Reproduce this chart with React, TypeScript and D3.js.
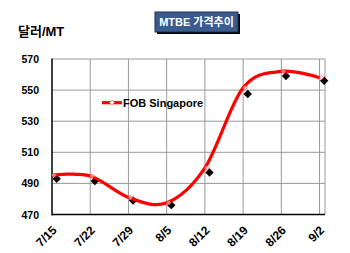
import React from "react";
import * as d3 from "d3";

const categories = ["7/15", "7/22", "7/29", "8/5", "8/12", "8/19", "8/26", "9/2"];
const categoryDays = [0, 7, 14, 21, 28, 35, 42, 49];
const fobSingapore = [495.3, 494.8, 481, 477.5, 500, 551.5, 562, 558];
const actualPoints = [493, 491.5, 479, 476, 497, 547.5, 559, 556];
const actualDayOffset = 0.85;
const yTicks = [470, 490, 510, 530, 550, 570];

const W = 350;
const H = 253;
const FONT = "'Liberation Sans', Arial, 'Noto Sans CJK KR', sans-serif";

export default function App() {
  const x = d3.scaleLinear().domain([0, 50]).range([52, 325]);
  const y = d3.scaleLinear().domain([470, 570]).range([214.5, 59]);

  const line = d3
    .line<number>()
    .x((_, i) => x(categoryDays[i]))
    .y((d) => y(d))
    .curve(d3.curveCatmullRom.alpha(0));

  const diamond = (cx: number, cy: number, r: number) =>
    `M${cx},${cy - r}L${cx + r},${cy}L${cx},${cy + r}L${cx - r},${cy}Z`;

  return (
    <svg
      width={W}
      height={H}
      style={{ position: "absolute", left: 0, top: 0, background: "#fff" }}
      fontFamily={FONT}
    >
      {/* grid */}
      {categoryDays.slice(1).map((d) => (
        <line key={"v" + d} x1={x(d)} x2={x(d)} y1={y(570)} y2={y(470)} stroke="#999" strokeWidth={1} />
      ))}
      {yTicks.slice(1).map((t) => (
        <line key={"h" + t} x1={x(0)} x2={x(50)} y1={y(t)} y2={y(t)} stroke="#999" strokeWidth={1} />
      ))}
      <line x1={x(50)} x2={x(50)} y1={y(570)} y2={y(470)} stroke="#999" strokeWidth={1} />
      {/* axes */}
      <line x1={x(0)} x2={x(0)} y1={y(570) - 0.5} y2={y(470) + 1} stroke="#000" strokeWidth={1.5} />
      <line x1={x(0)} x2={x(50)} y1={y(470)} y2={y(470)} stroke="#000" strokeWidth={1.5} />
      {/* y tick labels */}
      {yTicks.map((t) => (
        <text key={"yl" + t} x={39} y={y(t) + 4} textAnchor="end" fontSize={10.5} fontWeight="bold" fill="#000">
          {t}
        </text>
      ))}
      {/* x tick labels */}
      {categories.map((c, i) => (
        <text
          key={"xl" + c}
          transform={`translate(${x(categoryDays[i]) + 5.5},${y(470) + 16.5}) rotate(-45)`}
          textAnchor="end"
          fontSize={12}
          fontWeight="bold"
          fill="#000"
        >
          {c}
        </text>
      ))}
      {/* actual points */}
      {actualPoints.map((v, i) => (
        <path key={"ap" + i} d={diamond(x(categoryDays[i] + actualDayOffset), y(v), 4.2)} fill="#000" />
      ))}
      {/* red smooth line */}
      <path d={line(fobSingapore) || ""} fill="none" stroke="#ff0000" strokeWidth={3.2} strokeLinejoin="round" />
      {fobSingapore.map((v, i) => (
        <path key={"rm" + i} d={diamond(x(categoryDays[i]) + 2, y(v), 2.2)} fill="#fff" fillOpacity={0.5} stroke="#ff6666" strokeWidth={0.8} />
      ))}
      {/* legend */}
      <line x1={102} x2={122} y1={102.7} y2={102.7} stroke="#ff0000" strokeWidth={3.2} />
      <path d={diamond(112, 102.7, 2.5)} fill="#fff" stroke="#ff6666" strokeWidth={0.8} />
      <text x={123} y={106.7} fontSize={11} fontWeight="bold" fill="#000">
        FOB Singapore
      </text>
      {/* y unit */}
      <text x={18} y={36} fontSize={13} fontWeight="bold" fill="#000">
        달러/MT
      </text>
      {/* title box */}
      <rect x={157} y={14} width={83} height={20} fill="#000" />
      <rect x={155} y={12} width={83} height={20} fill="#3b5b8f" stroke="#1e2f55" strokeWidth={1} />
      <text x={196.5} y={26} textAnchor="middle" fontSize={11} fontWeight="bold" fill="#fff">
        MTBE 가격추이
      </text>
    </svg>
  );
}
